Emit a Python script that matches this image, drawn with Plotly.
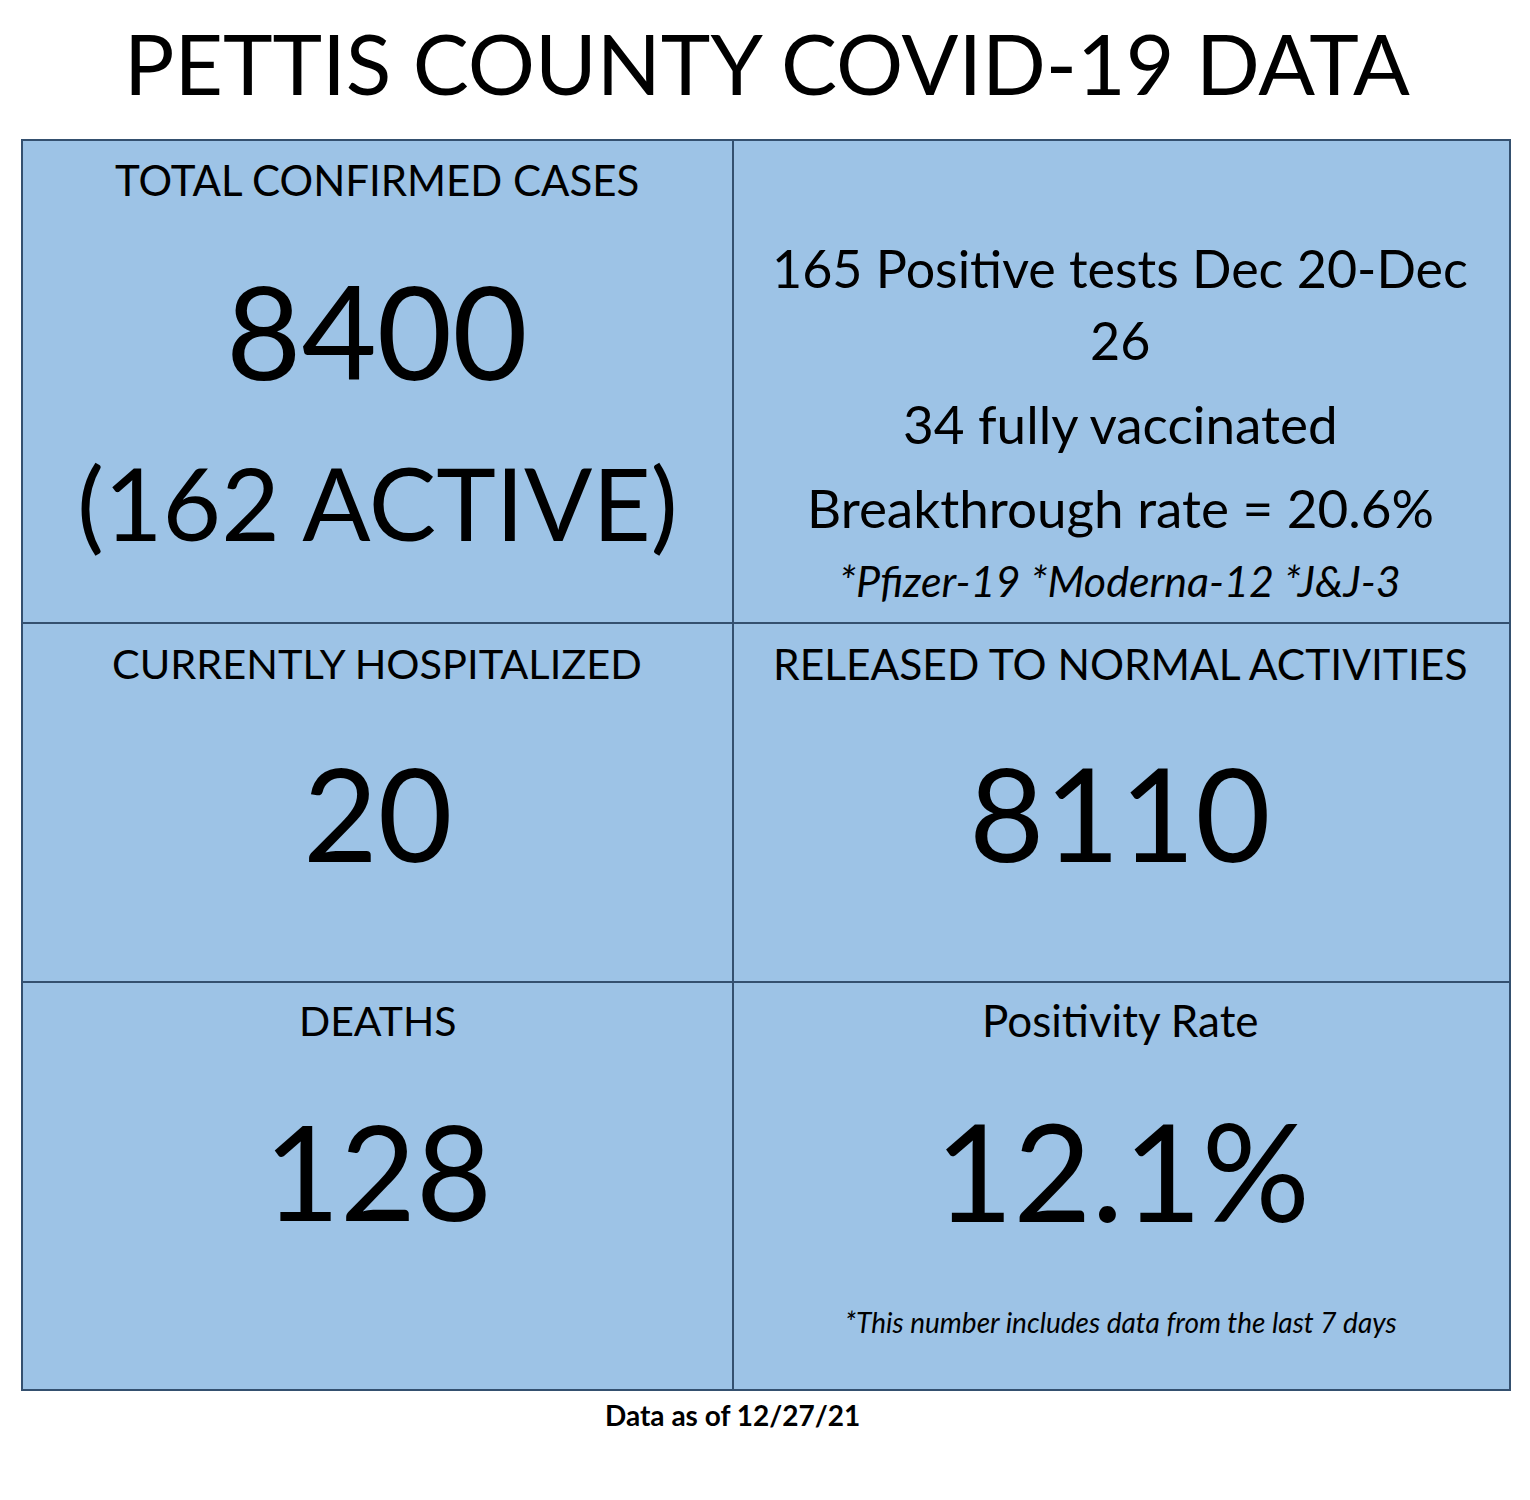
import plotly.graph_objects as go

# ---- data ----
title_text = "PETTIS COUNTY COVID-19 DATA"
total_cases = 8400
active_cases = 162
hospitalized = 20
released = 8110
deaths = 128
positivity_rate = 12.1
positive_tests = 165
week_start = "Dec 20"
week_end = "Dec 26"
fully_vaccinated = 34
breakthrough_rate = 20.6
vaccine_names = ["Pfizer", "Moderna", "J&J"]
vaccine_counts = [19, 12, 3]
cell_headers = ["TOTAL CONFIRMED CASES", "CURRENTLY HOSPITALIZED",
                "RELEASED TO NORMAL ACTIVITIES", "DEATHS", "Positivity Rate"]
positivity_note = "*This number includes data from the last 7 days"
data_date = "12/27/21"

# ---- style ----
FONT = "Lato"
FILL = "#9dc3e6"
LINE = "#34506f"
W, H = 1530, 1500
OFF = 8  # page body margin compensation
X0, X1, XM = 22, 1510, 733
Y0, Y1, Y2, Y3 = 140, 623, 982, 1390

fig = go.Figure()
shapes = [
    dict(type="rect", x0=X0, x1=X1, y0=Y0, y1=Y3, fillcolor=FILL,
         line=dict(color=LINE, width=2), layer="below"),
    dict(type="line", x0=XM, x1=XM, y0=Y0, y1=Y3, line=dict(color=LINE, width=2)),
    dict(type="line", x0=X0, x1=X1, y0=Y1, y1=Y1, line=dict(color=LINE, width=2)),
    dict(type="line", x0=X0, x1=X1, y0=Y2, y1=Y2, line=dict(color=LINE, width=2)),
]

ann = []
def add(text, x, y, size, bold=False, italic=False):
    t = text
    if italic:
        t = "<i>" + t + "</i>"
    if bold:
        t = "<b>" + t + "</b>"
    ann.append(dict(text=t, x=x, y=y, xref="x", yref="y", showarrow=False,
                    xanchor="center", yanchor="middle",
                    font=dict(family=FONT, size=size, color="black")))

add(title_text, 767, 62, 84)

add(cell_headers[0], 377, 180, 42)
add(f"{total_cases}", 377, 330, 130)
add(f"({active_cases} ACTIVE)", 377, 502, 101)

add(f"{positive_tests} Positive tests {week_start}-{week_end.split()[0]}", 1120, 268, 52)
add(week_end.split()[1], 1120, 340, 52)
add(f"{fully_vaccinated} fully vaccinated", 1120, 423, 53)
add(f"Breakthrough rate = {breakthrough_rate}%", 1120, 507, 53)
add(" ".join(f"*{n}-{c}" for n, c in zip(vaccine_names, vaccine_counts)), 1120, 580, 43, italic=True)

add(cell_headers[1], 377, 663, 41.5)
add(f"{hospitalized}", 378, 812, 129)
add(cell_headers[2], 1120, 663, 42.5)
add(f"{released}", 1120, 812, 130)

add(cell_headers[3], 377, 1020, 41)
add(f"{deaths}", 378, 1170, 131)
add(cell_headers[4], 1120, 1020, 44)
add(f"{positivity_rate}%", 1122, 1170, 135)
add(positivity_note, 1121, 1322, 28, italic=True)

add(f"Data as of {data_date}", 732, 1415, 28, bold=True)

fig.update_layout(
    width=W, height=H, margin=dict(l=0, r=0, t=0, b=0),
    paper_bgcolor="white", plot_bgcolor="white",
    xaxis=dict(range=[OFF, W + OFF], visible=False, fixedrange=True),
    yaxis=dict(range=[H + OFF, OFF], visible=False, fixedrange=True),
    shapes=shapes, annotations=ann, showlegend=False,
)
fig.write_html("out.html", config={"displayModeBar": False})
